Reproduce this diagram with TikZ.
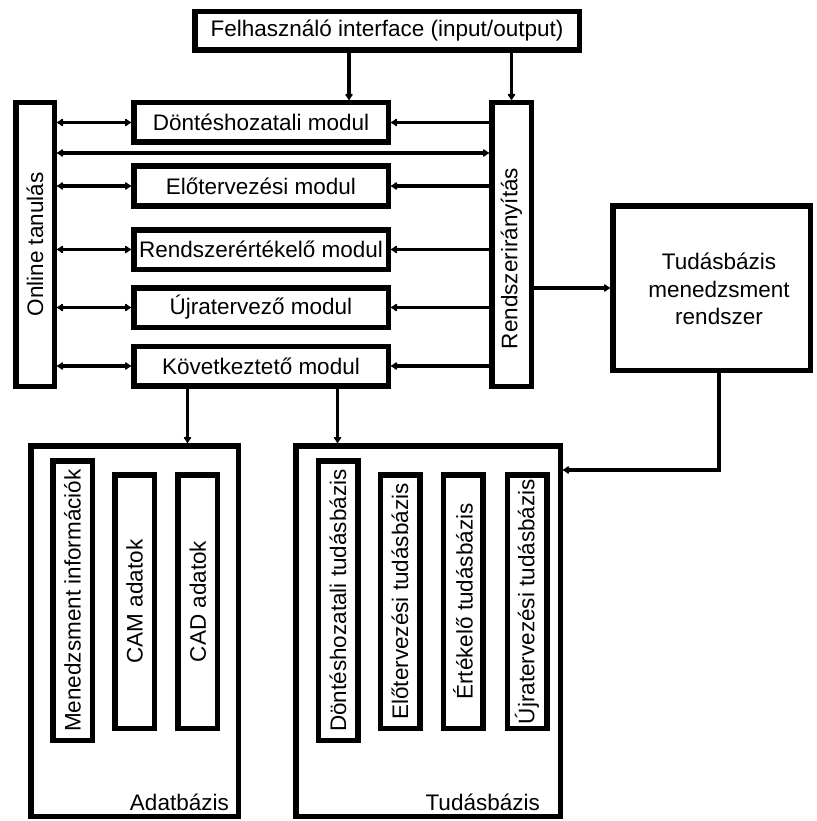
\documentclass[tikz,border=0pt]{standalone}
\usepackage{fontspec}
\usepackage{graphicx}
\setmainfont{Liberation Sans}
\usetikzlibrary{arrows.meta}
\begin{document}
\begin{tikzpicture}[x=1pt,y=-1pt,
  txt/.style={font=\fontsize{22.5}{27.5}\selectfont},
  bx/.style={draw, fill=white, line width=5.5pt, inner sep=0pt, txt,
    path picture={\fill (path picture bounding box.north west) rectangle
      ([xshift=3pt]path picture bounding box.south west);}},
  conn/.style={line width=3.8pt},
  hd/.tip={Latex[length=7pt,width=9.5pt,round]},
  arr/.style={conn, -hd},
  darr/.style={conn, hd-hd}
]
\useasboundingbox (0,0) rectangle (816,821);

% user interface
\node[bx, minimum width=384.5pt, minimum height=38.5pt] (fh) at (387,31) {Felhasználó interface (input/output)};

% side bars
\node[bx, minimum width=38.5pt, minimum height=283.5pt] (ot) at (35,244.5) {\rotatebox{90}{Online tanulás}};
\node[bx, minimum width=39.5pt, minimum height=283.5pt] (ri) at (511.5,244.5) {\rotatebox{90}{Rendszerirányítás\hspace{28pt}}};

% modules
\node[bx, minimum width=254.5pt, minimum height=39.5pt] (dm) at (261,122.5) {Döntéshozatali modul};
\node[bx, minimum width=254.5pt, minimum height=39.5pt] (em) at (261,186) {Előtervezési modul};
\node[bx, minimum width=254.5pt, minimum height=39.5pt] (rm) at (261,249.5) {Rendszerértékelő modul};
\node[bx, minimum width=254.5pt, minimum height=39.5pt] (um) at (261,307.5) {Újratervező modul};
\node[bx, minimum width=254.5pt, minimum height=39.5pt] (km) at (261,366) {Következtető modul};

% knowledge base management
\node[bx, minimum width=197.5pt, minimum height=164.5pt] (tmr) at (711.5,288) {};
\node[txt, align=center, inner sep=0pt] (tmrt) at (719,289) {Tudásbázis\\menedzsment\\rendszer};

% databases
\node[bx, minimum width=207.5pt, minimum height=370.5pt] (ab) at (134.5,631) {};
\node[bx, minimum width=264.5pt, minimum height=370.5pt] (tb) at (428,631) {};
\node[txt, anchor=east, inner sep=0pt] (abl) at (229,802) {Adatbázis};
\node[txt, anchor=east, inner sep=0pt] (tbl) at (540,802) {Tudásbázis};

\node[bx, minimum width=39.5pt, minimum height=279.5pt] (mi) at (72.5,600.5) {\rotatebox{90}{Menedzsment információk}};
\node[bx, minimum width=39.5pt, minimum height=253.5pt] (cam) at (134.5,601.5) {\rotatebox{90}{CAM adatok}};
\node[bx, minimum width=39.5pt, minimum height=253.5pt] (cad) at (197.75,601.5) {\rotatebox{90}{CAD adatok}};

\node[bx, minimum width=39.5pt, minimum height=279.5pt] (dt) at (338,600.5) {\rotatebox{90}{Döntéshozatali tudásbázis}};
\node[bx, minimum width=39.5pt, minimum height=253.5pt] (et) at (400,601.5) {\rotatebox{90}{Előtervezési tudásbázis}};
\node[bx, minimum width=39.5pt, minimum height=253.5pt] (ert) at (463,601.5) {\rotatebox{90}{Értékelő tudásbázis}};
\node[bx, minimum width=39.5pt, minimum height=253.5pt] (ut) at (527,601.5) {\rotatebox{90}{Újratervezési tudásbázis}};

% helper positions for connectors
\coordinate (xa) at (349,0);
\coordinate (yl) at (0,153);
\coordinate (xd) at (719,0);
\coordinate (yd) at (0,470);
\coordinate (xk1) at (187.5,0);
\coordinate (xk2) at (337.5,0);

% connectors
\draw[arr] (fh.south -| xa) -- (dm.north -| xa);
\draw[arr] (fh.south -| ri.north) -- (ri.north);
\foreach \m in {dm,em,rm,um,km}{
  \draw[arr] (ri.west |- \m) -- (\m.east);
  \draw[darr] (ot.east |- \m) -- (\m.west);
}
\draw[darr] (ot.east |- yl) -- (ri.west |- yl);
\draw[arr] (ri.east |- tmr) -- (tmr.west);
\draw[arr] (tmr.south -| xd) |- (tb.east |- yd);
\draw[arr] (km.south -| xk1) -- (ab.north -| xk1);
\draw[arr] (km.south -| xk2) -- (tb.north -| xk2);
\end{tikzpicture}
\end{document}
